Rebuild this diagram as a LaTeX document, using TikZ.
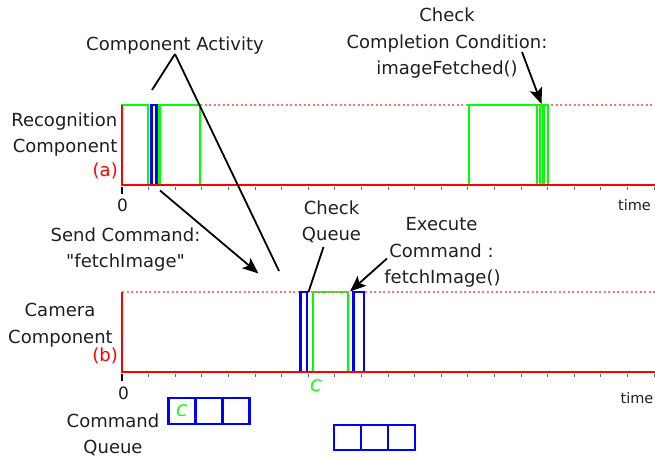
\documentclass[tikz,border=0pt]{standalone}
\usepackage{fontspec}
\setmainfont{DejaVu Sans}
\newcommand\mystraightquote{\XeTeXglyph\XeTeXcharglyph"22\relax}
\usetikzlibrary{arrows.meta}
\begin{document}
\begin{tikzpicture}[x=1pt,y=-1pt,
  lbl/.style={font=\fontsize{18}{26}\selectfont, text=black!88, inner sep=0pt, anchor=base},
  redlbl/.style={font=\fontsize{18}{26}\selectfont, text=red, inner sep=0pt, anchor=base east},
  small/.style={font=\fontsize{14.5}{16}\selectfont, text=black!88, inner sep=0pt, anchor=base},
  zero/.style={font=\fontsize{17}{18}\selectfont, text=black!88, inner sep=0pt, anchor=base},
  cmark/.style={font=\fontsize{16}{18}\selectfont\itshape, text=green, inner sep=0pt},
  axisline/.style={red, line width=2.8pt},
  guide/.style={red!55, line width=1.6pt, dash pattern=on 2pt off 2.5pt},
  gpulse/.style={green, line width=2.3pt},
  bpulse/.style={blue, line width=2.3pt},
  ticky/.style={black!60, line width=0.9pt},
  pointer/.style={black, line width=1.8pt},
  arrowed/.style={pointer, -{Stealth[length=16pt,width=13pt,inset=3.5pt]}},
  qcell/.style={draw=blue, line width=2.3pt, minimum width=27pt, minimum height=25.5pt, inner sep=0pt, anchor=center}
]
\useasboundingbox (0,0) rectangle (655,457);

% ---------- labels ----------
\node[lbl] (ca) at (175,51) {Component Activity};
\node[lbl] (cc1) at (447,22) {Check};
\node[lbl] (cc2) at (447,48.5) {Completion Condition:};
\node[lbl] (cc3) at (447,74.5) {imageFetched()};
\node[lbl, anchor=base east] (rc1) at (117.5,127) {Recognition};
\node[lbl, anchor=base east] (rc2) at (117.5,153) {Component};
\node[redlbl] (ra) at (118,176) {(a)};
\node[lbl] (sc1) at (125.5,241.5) {Send Command:};
\node[lbl] (sc2) at (125.5,267) {\mystraightquote fetchImage\mystraightquote};
\node[lbl] (cq1) at (331.5,214) {Check};
\node[lbl] (cq2) at (331.5,240) {Queue};
\node[lbl] (ex1) at (441.5,230.5) {Execute};
\node[lbl] (ex2) at (441.5,257.5) {Command :};
\node[lbl] (ex3) at (442.5,283.5) {fetchImage()};
\node[lbl] (cam1) at (60,316) {Camera};
\node[lbl] (cam2) at (60.5,343) {Component};
\node[redlbl] (rb) at (118,361) {(b)};
\node[lbl] (qu1) at (113,427) {Command};
\node[lbl] (qu2) at (113,453) {Queue};
\node[zero] (z1) at (122.5,211.5) {0};
\node[zero] (z2) at (123.5,399) {0};
\node[small] (t1) at (634.5,210.5) {time};
\node[small] (t2) at (637,403) {time};
\node[cmark] (cbot) at (316,385.5) {C};

% ---------- top timeline ----------
\draw[guide] (200,105) -- (655,105);
\foreach \k in {1,...,20} \draw[ticky] ({122+26.6*\k},186.5) -- ++(0,3);
\draw[gpulse] (122,185) -- (122,105) -- (148,105) -- (148,185);
\draw[bpulse] (151.5,185) -- (151.5,105) -- (156.5,105) -- (156.5,185);
\draw[gpulse] (159.5,185) -- (159.5,105) -- (200,105) -- (200,185);
\draw[gpulse] (469,185) -- (469,105) -- (537,105) -- (537,185);
\draw[gpulse] (540,185) -- (540,105) -- (548,105) -- (548,185);
\draw[gpulse] (543.5,185) -- (543.5,105);
\draw[axisline] (122,105) -- (122,185) -- (655,185);
\draw[black, line width=2pt] (122,186.5) -- (122,194);

% ---------- bottom timeline ----------
\draw[gpulse] (313,372) -- (313,292) -- (348,292) -- (348,372);
\draw[guide] (122,292) -- (655,292);
\foreach \k in {1,...,20} \draw[ticky] ({122+26.6*\k},373.5) -- ++(0,3);
\draw[bpulse] (300.5,372) -- (300.5,292) -- (307,292) -- (307,372);
\draw[bpulse] (353.5,372) -- (353.5,292) -- (364,292) -- (364,372);
\draw[axisline] (122,292) -- (122,372) -- (655,372);
\draw[black, line width=2pt] (122,373.5) -- (122,381);

% ---------- command queues ----------
\node[qcell] (qa1) at (182,411) {};
\node[qcell] (qa2) at (209,411) {};
\node[qcell] (qa3) at (236,411) {};
\node[cmark] (ctop) at (qa1) {C};
\node[qcell] (qb1) at (347.5,437.5) {};
\node[qcell] (qb2) at (374.5,437.5) {};
\node[qcell] (qb3) at (401.5,437.5) {};

% ---------- connectors ----------
\coordinate (caP) at (175,54);
\coordinate (caA) at (152,90);
\coordinate (caB) at (279,271);
\draw[pointer] (caP) -- (caA);
\draw[pointer] (caP) -- (caB);

\coordinate (ccS) at (522,52);
\coordinate (ccT) at (541.5,104);
\draw[arrowed] (ccS) -- (ccT);

\coordinate (scS) at (160,190.5);
\coordinate (scT) at (258.5,273.5);
\draw[arrowed] (scS) -- (scT);

\coordinate (cqS) at (323.5,247);
\coordinate (cqT) at (308.5,292);
\draw[pointer] (cqS) -- (cqT);

\coordinate (exS) at (387,258.5);
\coordinate (exT) at (350,291.5);
\draw[arrowed] (exS) -- (exT);
\end{tikzpicture}
\end{document}
